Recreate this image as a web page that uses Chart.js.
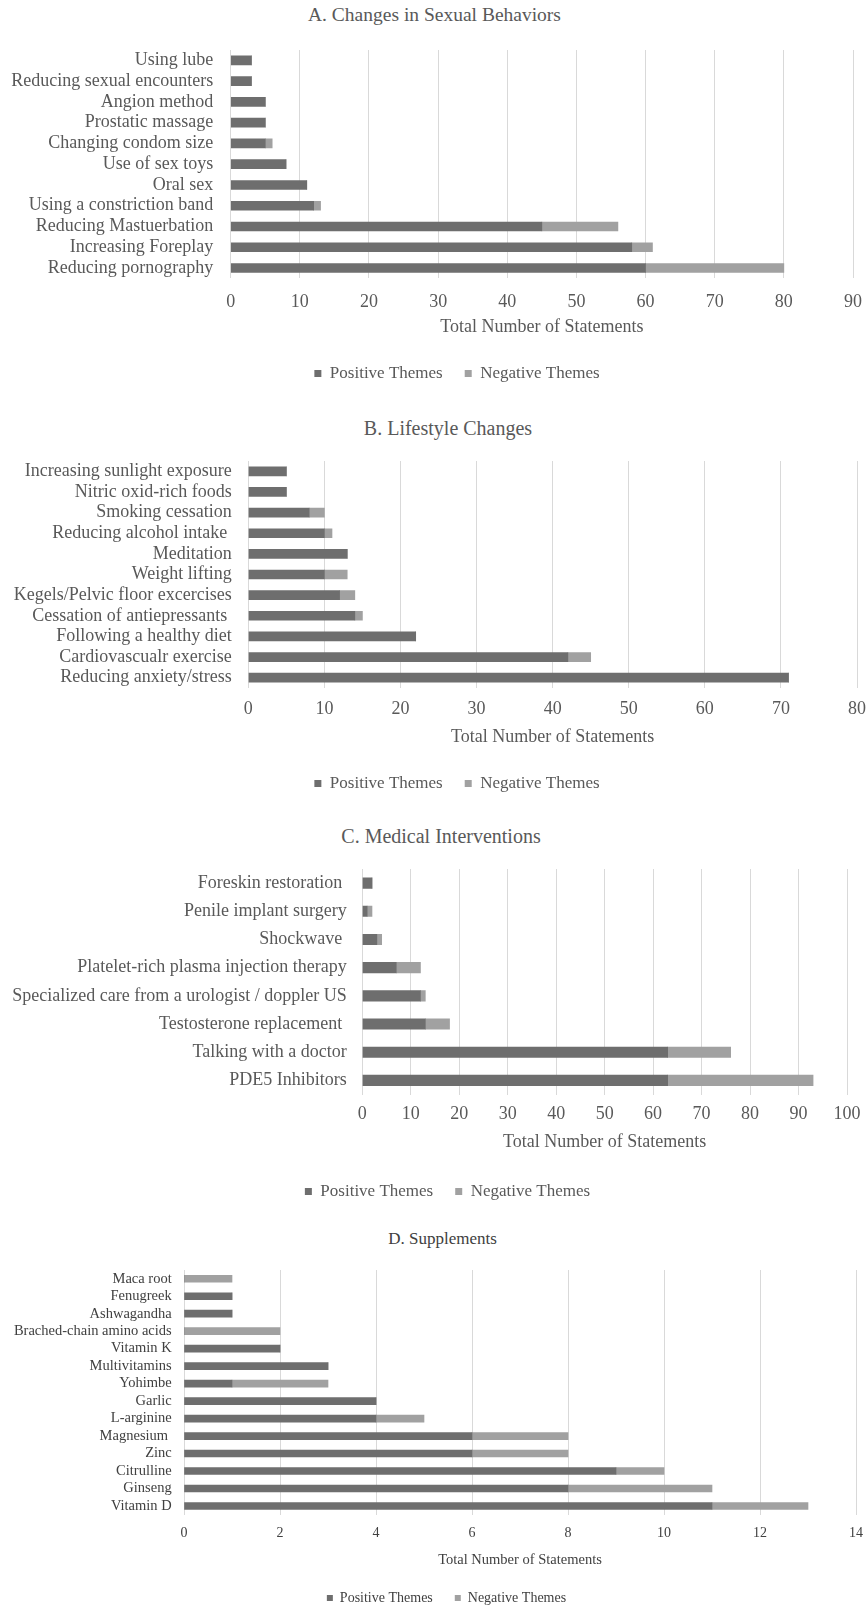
<!DOCTYPE html>
<html>
<head>
<meta charset="utf-8">
<title>Statements by theme</title>
<script src="https://cdn.jsdelivr.net/npm/chart.js@4.4.1/dist/chart.umd.min.js"></script>
<style>
  html, body { margin: 0; padding: 0; background: #fff; overflow: hidden; }
  body { width: 866px; height: 1608px; position: relative; font-family: "Liberation Serif", "Times New Roman", serif; }
  .ttl { position: absolute; left: 0; text-align: center; color: #595959; white-space: nowrap; }
  canvas { position: absolute; left: 0; }
</style>
</head>
<body>
<div class="ttl" style="top:2.5px;width:869px;font-size:19.5px;line-height:24px">A. Changes in Sexual Behaviors</div>
<canvas id="chartA" width="866" height="342" style="top:49.6px"></canvas>

<div class="ttl" style="top:416px;width:896px;font-size:20px;line-height:24px">B. Lifestyle Changes</div>
<canvas id="chartB" width="866" height="341" style="top:460.7px"></canvas>

<div class="ttl" style="top:823.5px;width:882px;font-size:20px;line-height:24px">C. Medical Interventions</div>
<canvas id="chartC" width="866" height="341" style="top:869px"></canvas>

<div class="ttl" style="top:1229px;width:885px;font-size:17px;line-height:20px;color:#404040">D. Supplements</div>
<canvas id="chartD" width="866" height="345" style="top:1270.3px"></canvas>

<script>
// A. Changes in Sexual Behaviors
const sexLabels = ['Using lube', 'Reducing sexual encounters', 'Angion method', 'Prostatic massage',
    'Changing condom size', 'Use of sex toys', 'Oral sex', 'Using a constriction band',
    'Reducing Mastuerbation', 'Increasing Foreplay', 'Reducing pornography'];
const sexPositive = [3, 3, 5, 5, 5, 8, 11, 12, 45, 58, 60];
const sexNegative = [0, 0, 0, 0, 1, 0, 0, 1, 11, 3, 20];

// B. Lifestyle Changes
const lifeLabels = ['Increasing sunlight exposure', 'Nitric oxid-rich foods', 'Smoking cessation',
    'Reducing alcohol intake ', 'Meditation', 'Weight lifting', 'Kegels/Pelvic floor excercises',
    'Cessation of antiepressants ', 'Following a healthy diet', 'Cardiovascualr exercise',
    'Reducing anxiety/stress'];
const lifePositive = [5, 5, 8, 10, 13, 10, 12, 14, 22, 42, 71];
const lifeNegative = [0, 0, 2, 1, 0, 3, 2, 1, 0, 3, 0];

// C. Medical Interventions
const medLabels = ['Foreskin restoration ', 'Penile implant surgery', 'Shockwave ',
    'Platelet-rich plasma injection therapy', 'Specialized care from a urologist / doppler US',
    'Testosterone replacement ', 'Talking with a doctor', 'PDE5 Inhibitors'];
const medPositive = [2, 1, 3, 7, 12, 13, 63, 63];
const medNegative = [0, 1, 1, 5, 1, 5, 13, 30];

// D. Supplements
const supLabels = ['Maca root', 'Fenugreek', 'Ashwagandha', 'Brached-chain amino acids', 'Vitamin K',
    'Multivitamins', 'Yohimbe', 'Garlic', 'L-arginine', 'Magnesium ', 'Zinc', 'Citrulline',
    'Ginseng', 'Vitamin D'];
const supPositive = [0, 1, 1, 0, 2, 3, 1, 4, 4, 6, 6, 9, 8, 11];
const supNegative = [1, 0, 0, 2, 0, 0, 2, 0, 1, 2, 2, 1, 3, 2];

const seriesNames = ['Positive Themes', 'Negative Themes'];
const axisTitle = 'Total Number of Statements';

const darkGray = '#6e6e6e';
const lightGray = '#a1a1a1';
const gridGray = '#d9d9d9';
const fontFamily = '"Liberation Serif", "Times New Roman", serif';

// moves the legend sideways, the y labels need the left edge of the canvas
const legendShift = {
    id: 'legendShift',
    afterLayout(chart, args, opts) {
        const lg = chart.legend;
        if (lg && opts.dx) {
            lg.left += opts.dx;
            lg.right += opts.dx;
        }
    }
};

function drawPanel(canvasId, labels, positive, negative, cfg) {
    const ctx = document.getElementById(canvasId).getContext('2d');
    return new Chart(ctx, {
        type: 'bar',
        data: {
            labels: labels,
            datasets: [
                { label: seriesNames[0], data: positive, backgroundColor: darkGray, barThickness: cfg.bar },
                { label: seriesNames[1], data: negative, backgroundColor: lightGray, barThickness: cfg.bar }
            ]
        },
        plugins: [legendShift],
        options: {
            indexAxis: 'y',
            responsive: false,
            animation: false,
            layout: { padding: { top: 0, bottom: 0, left: 0, right: cfg.padRight } },
            plugins: {
                tooltip: { enabled: false },
                legendShift: { dx: cfg.legendDx },
                legend: {
                    position: 'bottom',
                    labels: {
                        color: cfg.color,
                        font: { family: fontFamily, size: cfg.legendSize },
                        boxWidth: cfg.box,
                        boxHeight: cfg.box,
                        padding: cfg.legendPad
                    }
                }
            },
            scales: {
                x: {
                    stacked: true,
                    min: 0,
                    max: cfg.max,
                    ticks: { stepSize: cfg.step, padding: cfg.tickPad, color: cfg.color, font: { family: fontFamily, size: cfg.tickSize } },
                    grid: { color: gridGray, drawTicks: false },
                    border: { display: false },
                    title: {
                        display: true,
                        text: axisTitle,
                        color: cfg.color,
                        font: { family: fontFamily, size: cfg.titleSize },
                        padding: { top: 0, bottom: cfg.titlePad }
                    },
                    afterFit: (s) => { s.height = cfg.xHeight; s.paddingLeft = 0; s.paddingRight = 0; }
                },
                y: {
                    stacked: true,
                    ticks: { autoSkip: false, padding: cfg.labelPad, color: cfg.color, font: { family: fontFamily, size: cfg.labelSize } },
                    grid: { display: false, drawTicks: false },
                    border: { display: false },
                    afterFit: (s) => { s.width = cfg.yWidth; s.paddingTop = 0; s.paddingBottom = 0; }
                }
            }
        }
    });
}

drawPanel('chartA', sexLabels, sexPositive, sexNegative, {
    max: 90, step: 10, bar: 9, color: '#595959',
    padRight: 13, yWidth: 230.7, labelPad: 17.4, labelSize: 18,
    tickSize: 18, tickPad: 12.8, titleSize: 18, titlePad: 5.2, xHeight: 64.6,
    legendSize: 17, legendPad: 22, box: 7, legendDx: 30.5
});

drawPanel('chartB', lifeLabels, lifePositive, lifeNegative, {
    max: 80, step: 10, bar: 9, color: '#595959',
    padRight: 9, yWidth: 248.3, labelPad: 16.6, labelSize: 18,
    tickSize: 18, tickPad: 10.2, titleSize: 18, titlePad: 5.2, xHeight: 65,
    legendSize: 17, legendPad: 22, box: 7, legendDx: 28.5
});

drawPanel('chartC', medLabels, medPositive, medNegative, {
    max: 100, step: 10, bar: 10.5, color: '#595959',
    padRight: 19, yWidth: 362.3, labelPad: 15.6, labelSize: 18,
    tickSize: 18, tickPad: 9.2, titleSize: 18, titlePad: 8, xHeight: 66.5,
    legendSize: 17, legendPad: 22, box: 7, legendDx: 24
});

drawPanel('chartD', supLabels, supPositive, supNegative, {
    max: 14, step: 2, bar: 7, color: '#404040',
    padRight: 10, yWidth: 184, labelPad: 12.3, labelSize: 14.5,
    tickSize: 14, tickPad: 9.9, titleSize: 14.5, titlePad: 0.3, xHeight: 54.3,
    legendSize: 14, legendPad: 22, box: 6, legendDx: 18.5
});
</script>
</body>
</html>
